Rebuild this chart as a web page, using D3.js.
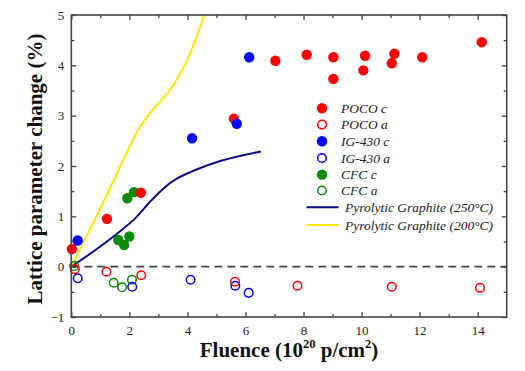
<!DOCTYPE html>
<html><head><meta charset="utf-8">
<script src="https://cdn.jsdelivr.net/npm/d3@7"></script>
<style>body{margin:0;background:#fff}svg{display:block}text{font-family:"Liberation Serif","Times New Roman",serif}</style>
</head><body><svg id="c" width="525" height="371"></svg>
<script>
const xTicks=[0,2,4,6,8,10,12,14];
const yTicks=[-1,0,1,2,3,4,5];
const pocoC=[[0.02,0.35],[1.23,0.95],[2.40,1.47],[5.60,2.94],[7.03,4.09],[8.11,4.21],[9.03,4.16],[9.03,3.73],[10.12,4.19],[10.06,3.90],[11.13,4.23],[11.04,4.04],[12.09,4.16],[14.14,4.46]];
const pocoA=[[0.12,-0.05],[1.21,-0.10],[2.41,-0.17],[5.64,-0.30],[7.79,-0.38],[11.04,-0.40],[14.08,-0.42]];
const igC=[[0.22,0.52],[4.16,2.55],[5.70,2.84],[6.13,4.16]];
const igA=[[0.22,-0.23],[2.10,-0.40],[4.11,-0.26],[5.65,-0.38],[6.11,-0.52]];
const cfcC=[[1.93,1.36],[2.16,1.48],[1.62,0.53],[1.82,0.43],[2.00,0.60]];
const cfcA=[[0.10,0.01],[1.46,-0.32],[1.75,-0.41],[2.09,-0.26]];
const pg250=[[0,0],[0.83,0.33],[1.52,0.63],[2.20,0.96],[2.78,1.33],[3.47,1.69],[4.27,1.92],[5.19,2.11],[6.53,2.29]];
const pg200=[[0,0],[1.0,1.16],[1.96,2.32],[2.37,2.78],[2.71,3.05],[3.06,3.28],[3.40,3.51],[3.69,3.78],[3.97,4.08],[4.32,4.57],[4.58,5.0]];
const legendLabels=["POCO c","POCO a","IG-430 c","IG-430 a","CFC c","CFC a","Pyrolytic Graphite (250°C)","Pyrolytic Graphite (200°C)"];

const svg=d3.select("#c");
const L=71.3,R=506.7,T=15,B=317;
const x=d3.scaleLinear().domain([0,15]).range([L,R]);
const y=d3.scaleLinear().domain([-1,5]).range([B,T]);
const axC="#444";
const SERIF="Liberation Serif";

svg.append("line").attr("x1",x(0)).attr("x2",x(15)).attr("y1",y(0)).attr("y2",y(0))
  .attr("stroke",axC).attr("stroke-width",1.6).attr("stroke-dasharray","8,5");

const line=d3.line().x(d=>x(d[0])).y(d=>y(d[1])).curve(d3.curveCatmullRom.alpha(0.5));
const g=svg.append("g");
g.append("path").datum(pg250).attr("d",line).attr("fill","none").attr("stroke","#0b0b85").attr("stroke-width",2);
g.append("path").datum(pg200).attr("d",line).attr("fill","none").attr("stroke","#ffe600").attr("stroke-width",2);

function filled(data,col){g.append("g").selectAll("circle").data(data).join("circle")
  .attr("cx",d=>x(d[0])).attr("cy",d=>y(d[1])).attr("r",5.2).attr("fill",col);}
function open(data,col){g.append("g").selectAll("circle").data(data).join("circle")
  .attr("cx",d=>x(d[0])).attr("cy",d=>y(d[1])).attr("r",4.3).attr("fill","none").attr("stroke",col).attr("stroke-width",1.5);}
open(cfcA,"#0a8a0a");open(igA,"#0000ff");open(pocoA,"#ff0000");
filled(cfcC,"#0a8a0a");filled(pocoC,"#ff0000");filled(igC,"#0000ff");

const fmt=d3.format("d");
const xb=svg.append("g").attr("transform",`translate(0,${B})`).call(d3.axisBottom(x).tickValues(xTicks).tickFormat(fmt).tickSize(-5).tickPadding(9));
const xbm=svg.append("g").attr("transform",`translate(0,${B})`).call(d3.axisBottom(x).tickValues(d3.range(1,15,2)).tickFormat("").tickSize(-3));
const xt=svg.append("g").attr("transform",`translate(0,${T})`).call(d3.axisTop(x).tickValues(xTicks).tickFormat("").tickSize(-5));
const xtm=svg.append("g").attr("transform",`translate(0,${T})`).call(d3.axisTop(x).tickValues(d3.range(1,15,2)).tickFormat("").tickSize(-3));
const yl=svg.append("g").attr("transform",`translate(${L},0)`).call(d3.axisLeft(y).tickValues(yTicks).tickFormat(fmt).tickSize(-5).tickPadding(7));
const ylm=svg.append("g").attr("transform",`translate(${L},0)`).call(d3.axisLeft(y).tickValues(d3.range(-0.5,5,1)).tickFormat("").tickSize(-3));
const yr=svg.append("g").attr("transform",`translate(${R},0)`).call(d3.axisRight(y).tickValues(yTicks).tickFormat("").tickSize(-5));
const yrm=svg.append("g").attr("transform",`translate(${R},0)`).call(d3.axisRight(y).tickValues(d3.range(-0.5,5,1)).tickFormat("").tickSize(-3));
[xb,xbm,xt,xtm,yl,ylm,yr,yrm].forEach(a=>{a.attr("font-family",SERIF).attr("font-size",13);
  a.select(".domain").remove();a.selectAll("line").attr("stroke",axC).attr("stroke-width",1.3);
  a.selectAll("text").attr("fill","#222");});
svg.append("rect").attr("x",L).attr("y",T).attr("width",R-L).attr("height",B-T).attr("fill","none").attr("stroke",axC).attr("stroke-width",1.6);

const xtitle=svg.append("text").attr("x",289).attr("y",357).attr("text-anchor","middle").attr("font-family",SERIF)
  .attr("font-size",21).attr("font-weight","bold").attr("fill","#111");
xtitle.append("tspan").text("Fluence (10");
xtitle.append("tspan").text("20").attr("font-size",12.5).attr("dy",-9);
xtitle.append("tspan").text(" p/cm").attr("dy",9);
xtitle.append("tspan").text("2").attr("font-size",12.5).attr("dy",-9);
xtitle.append("tspan").text(")").attr("dy",9);
svg.append("text").attr("transform",`translate(42,${(T+B)/2+3}) rotate(-90)`).attr("text-anchor","middle").attr("font-family",SERIF)
  .attr("font-size",21).attr("font-weight","bold").attr("fill","#111").text("Lattice parameter change (%)");

const legCols=["#ff0000","#ff0000","#0000ff","#0000ff","#0a8a0a","#0a8a0a"];
const lg=svg.append("g").attr("font-family",SERIF);
const rowsY=[108.3,124.6,141.3,158,174.6,190.5,207.3,225];
legendLabels.forEach((t,i)=>{
  const yy=rowsY[i];
  if(i<6){
    const c=lg.append("circle").attr("cx",322).attr("cy",yy).attr("r",i%2==0?5.2:4.3);
    if(i%2==0)c.attr("fill",legCols[i]);else c.attr("fill","none").attr("stroke",legCols[i]).attr("stroke-width",1.5);
    lg.append("text").attr("x",341).attr("y",yy+4.5).attr("font-size",13.5).attr("font-style","italic").attr("fill","#222").text(t);
  } else {
    lg.append("line").attr("x1",306.5).attr("x2",338.5).attr("y1",yy).attr("y2",yy).attr("stroke",i==6?"#0b0b85":"#ffe600").attr("stroke-width",2);
    lg.append("text").attr("x",345).attr("y",yy+4.5).attr("font-size",13.5).attr("font-style","italic").attr("fill","#222").text(t);
  }
});
</script></body></html>
